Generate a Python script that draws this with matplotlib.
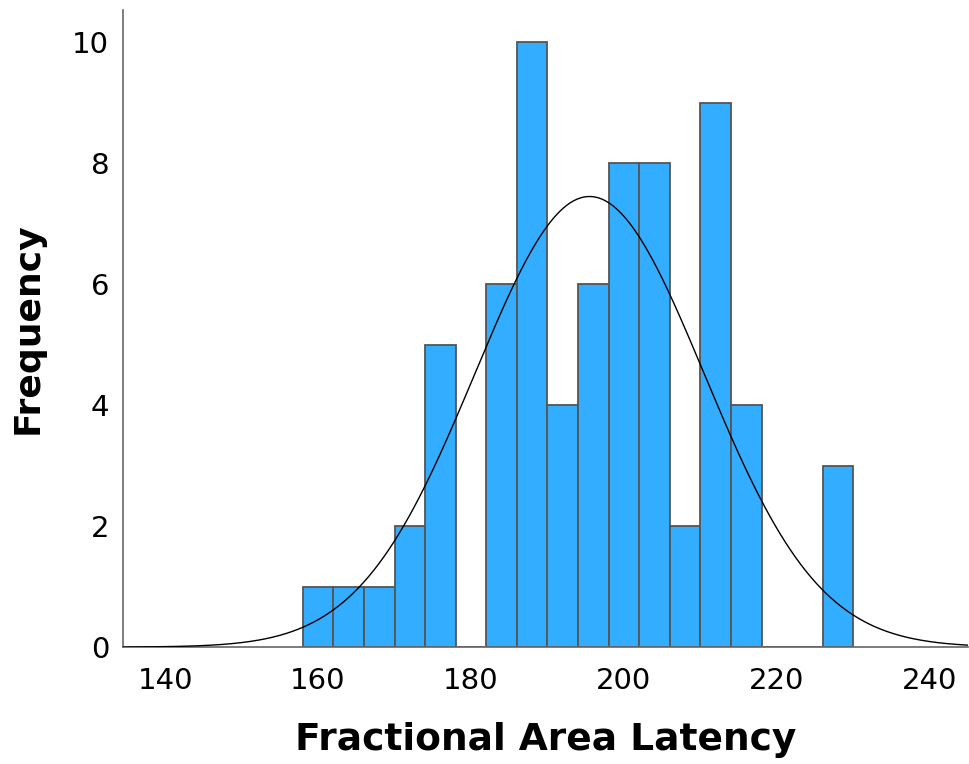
import numpy as np
import matplotlib.pyplot as plt

# histogram bins (left edges, width 4) and counts
bin_left = [158, 162, 166, 170, 174, 178, 182, 186, 190, 194, 198, 202, 206, 210, 214, 218, 222, 226]
counts = [1, 1, 1, 2, 5, 0, 6, 10, 4, 6, 8, 8, 2, 9, 4, 0, 0, 3]
bin_width = 4

# fitted normal curve parameters
curve_mean = 195.5
curve_sd = 15.0

x_ticks = [140, 160, 180, 200, 220, 240]
y_ticks = [0, 2, 4, 6, 8, 10]

fig = plt.figure(figsize=(9.69, 7.64), dpi=100)
ax = fig.add_axes([0.127, 0.153, 0.872, 0.834])

ax.bar(bin_left, counts, width=bin_width, align='edge',
       color='#33adff', edgecolor='#555555', linewidth=1.3, zorder=2)

n_total = sum(counts)
xs = np.linspace(134.5, 245, 500)
ys = n_total * bin_width / (curve_sd * np.sqrt(2 * np.pi)) * np.exp(-0.5 * ((xs - curve_mean) / curve_sd) ** 2)
ax.plot(xs, ys, color='black', linewidth=1.0, zorder=3)

ax.set_xlim(134.5, 245)
ax.set_ylim(0, 10.53)
ax.set_xticks(x_ticks)
ax.set_yticks(y_ticks)
ax.tick_params(length=0, labelsize=21)
ax.tick_params(axis='x', pad=14)
ax.tick_params(axis='y', pad=10)

for side in ['top', 'right']:
    ax.spines[side].set_visible(False)
for side in ['left', 'bottom']:
    ax.spines[side].set_color('#666666')
    ax.spines[side].set_linewidth(1.2)

ax.set_xlabel('Fractional Area Latency', fontsize=27, fontweight='bold', labelpad=20)
ax.set_ylabel('Frequency', fontsize=26, fontweight='bold', labelpad=20)

fig.savefig('out.png', dpi=100)
